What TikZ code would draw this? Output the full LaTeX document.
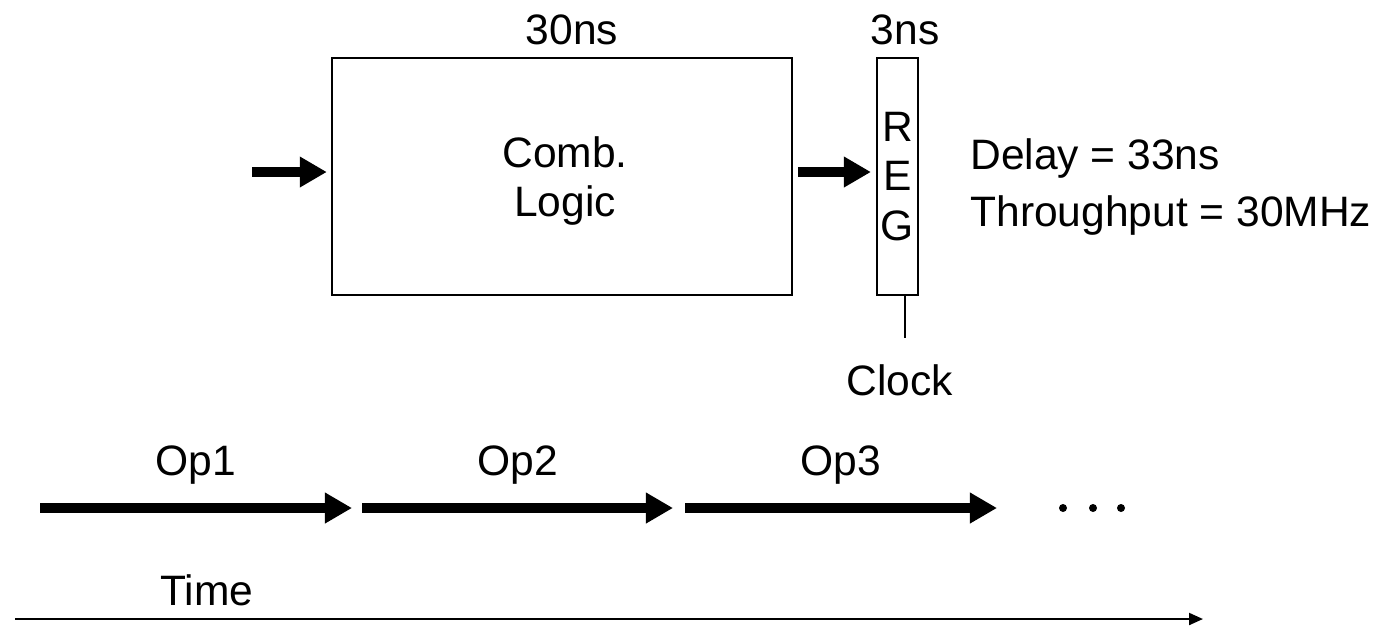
\documentclass[tikz,border=0pt]{standalone}
\usepackage{fontspec}
\setmainfont{Liberation Sans}
\usetikzlibrary{arrows.meta,positioning}

\begin{document}
\begin{tikzpicture}[x=0.01cm, y=-0.01cm,
  font=\fontsize{12.1}{14.2}\selectfont,
  box/.style={draw, line width=0.6pt, inner sep=0pt, align=center},
  bigarrow/.style={line width=2.9pt, -{Triangle[length=0.27cm,width=0.29cm]}},
  timearrow/.style={line width=0.6pt, -{Triangle[length=0.14cm,width=0.12cm]}}]
\useasboundingbox (0,0) rectangle (1381,626);

\node[box, minimum width=4.6cm, minimum height=2.37cm] (logic) at (562,176.5) {};
\node[align=center] (logictext) at (565,181) {Comb.\\Logic};
\node[box, minimum width=0.41cm, minimum height=2.37cm] (reg) at (897.5,176.5) {R\\E\\G};
\node (lat1) at (572,30) {30ns};
\node (lat2) at (905,30) {3ns};

\coordinate (in) at (252,172);
\draw[bigarrow, shorten >=0.04cm] (in) -- (logic.west |- in);
\draw[bigarrow, shorten <=0.05cm, shorten >=0.05cm] (logic.east |- in) -- (reg.west |- in);

\coordinate (clkend) at (905,338);
\draw[line width=0.6pt] (reg.south -| clkend) -- (clkend);
\node (clock) at (900,380) {Clock};

\node[anchor=west, align=left, font=\fontsize{12.1}{16.2}\selectfont] (perf) at (958,187)
  {Delay = 33ns\\Throughput = 30MHz};

\foreach \a/\b/\n in {40/352/1, 362/673/2, 685/997/3} {
  \coordinate (op\n s) at (\a,508);
  \coordinate (op\n e) at (\b,508);
  \draw[bigarrow] (op\n s) -- node[midway, yshift=0.43cm] (lab\n) {Op\n} (op\n e);
}
\foreach \x [count=\i] in {1063,1093,1121}
  \node[circle, fill, inner sep=0pt, minimum size=0.08cm] (dot\i) at (\x,508) {};

\coordinate (t0) at (15,619);
\coordinate (t1) at (1203,619);
\draw[timearrow] (t0) -- (t1);
\node (time) at (207,590) {Time};
\end{tikzpicture}
\end{document}
